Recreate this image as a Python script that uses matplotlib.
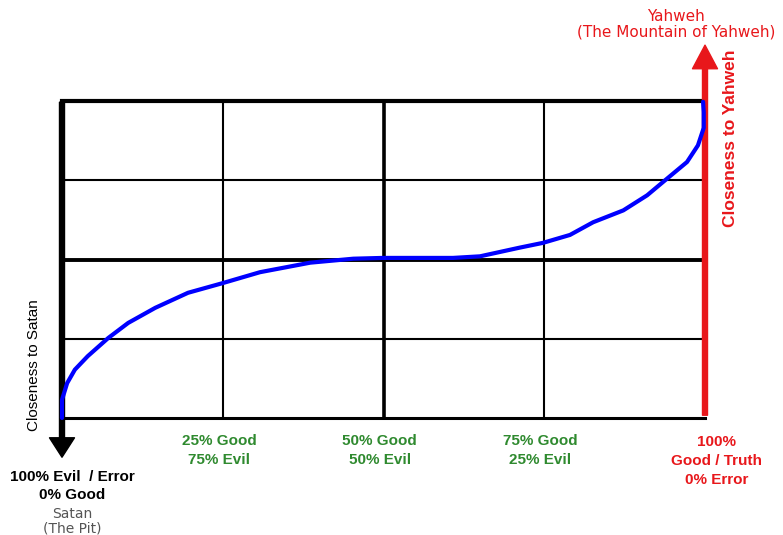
import matplotlib
matplotlib.use("Agg")
import matplotlib.pyplot as plt
from matplotlib.patches import FancyArrowPatch

# curve: x = % good, y = closeness (0 = Satan, 4 = Yahweh)
good_pct = [0, 0, 0.8, 2.0, 4.0, 7.2, 10.3, 14.5, 19.6, 24.9,
            30.8, 38.6, 45.3, 49.9, 55.7, 60.8, 65.0, 71.2, 74.8, 79.0,
            82.6, 87.3, 91.0, 93.5, 97.2, 98.9, 99.8, 99.8, 99.7]
closeness = [0, 0.23, 0.44, 0.61, 0.78, 1.01, 1.20, 1.39, 1.58, 1.70,
             1.84, 1.96, 2.01, 2.02, 2.02, 2.02, 2.04, 2.15, 2.21, 2.31,
             2.47, 2.62, 2.81, 2.98, 3.23, 3.44, 3.66, 3.86, 3.99]

x_grid = [25, 50, 75]
y_grid = [1, 2, 3]
x_labels = ["25% Good\n75% Evil", "50% Good\n50% Evil", "75% Good\n25% Evil"]

green = "#2f8a2f"
red = "#e8171b"

fig = plt.figure(figsize=(7.83, 5.35), dpi=100)
ax = fig.add_axes([62 / 783, 117 / 535, 643 / 783, 317 / 535])
ax.set_xlim(0, 100)
ax.set_ylim(0, 4)
ax.set_axis_off()

# grid
for gx in x_grid:
    ax.axvline(gx, color="black", lw=2.6 if gx == 50 else 1.5, zorder=1)
for gy in y_grid:
    ax.axhline(gy, color="black", lw=2.8 if gy == 2 else 1.5, zorder=1)
ax.axhline(4, color="black", lw=3, zorder=1, clip_on=False)
ax.axhline(0, color="black", lw=2.2, zorder=1, clip_on=False)

# left black arrow (down to Satan) and right red arrow (up to Yahweh)
left = FancyArrowPatch((0, 4.02), (0, -0.53), transform=ax.transData,
                       arrowstyle="simple,head_length=14,head_width=18,tail_width=3.6",
                       mutation_scale=1, color="black", clip_on=False, zorder=2)
ax.add_patch(left)
right = FancyArrowPatch((100, 0), (100, 4.74), transform=ax.transData,
                        arrowstyle="simple,head_length=17,head_width=18,tail_width=3.6",
                        mutation_scale=1, color=red, clip_on=False, zorder=2)
ax.add_patch(right)

# the curve
ax.plot(good_pct, closeness, color="#0000ff", lw=3, solid_capstyle="round",
        solid_joinstyle="round", clip_on=False, zorder=3)

bold = dict(family="Liberation Sans", fontweight="bold", fontsize=11)

for gx, lab in zip(x_grid, x_labels):
    ax.text(gx - 0.6, -0.2, lab, color=green, ha="center", va="top",
            linespacing=1.45, **bold)

ax.text(-4.4, 0.67, "Closeness to Satan", rotation=90, color="black",
        ha="center", va="center", family="Liberation Sans", fontsize=11)
ax.text(104.0, 3.53, "Closeness to Yahweh", rotation=90, color=red,
        ha="center", va="center", family="Liberation Sans",
        fontweight="bold", fontsize=12.5)

ax.text(95.5, 4.97, "Yahweh\n(The Mountain of Yahweh)", color=red,
        ha="center", va="center", family="DejaVu Sans", fontsize=11,
        linespacing=1.1)

ax.text(1.6, -0.65, "100% Evil  / Error\n0% Good", color="black",
        ha="center", va="top", linespacing=1.4, **bold)
ax.text(1.6, -1.12, "Satan\n(The Pit)", color="#555555", ha="center",
        va="top", family="DejaVu Sans", fontsize=10, linespacing=1.1)

ax.text(101.8, -0.22, "100%\nGood / Truth\n0% Error", color=red,
        ha="center", va="top", linespacing=1.45, **bold)

fig.savefig("out.png", dpi=100, facecolor="white")
